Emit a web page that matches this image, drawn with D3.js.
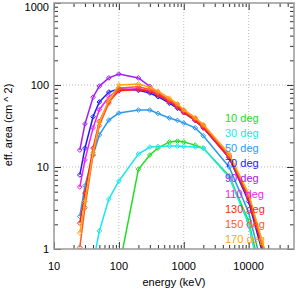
<!DOCTYPE html>
<html>
<head>
<meta charset="utf-8">
<script src="https://cdn.jsdelivr.net/npm/d3@7"></script>
<style>
  body { margin: 0; background: #fff; }
  text { font-family: "Liberation Sans", Arial, sans-serif; }
</style>
</head>
<body>
<div id="chart"></div>
<script>
// Energies (keV) of the simulated points
const ENERGIES = [25, 30, 40, 50, 70, 100, 200, 300, 400, 600, 800, 1000, 1500, 2000, 5000, 10000, 20000];

const ANGLES = ["10 deg", "30 deg", "50 deg", "70 deg", "90 deg", "110 deg", "130 deg", "150 deg", "170 deg"];
const COLORS = ["#22dd22", "#1ee6f0", "#2a9af0", "#1a1aff", "#a020f0", "#f01ef0", "#ff1e1e", "#ff5a28", "#ffa514"];

// effective area (cm^2), null where the curve has no point
const AREA_10 = [null, null, null, null, null, 0.57, 9.4, 14, 17, 20.2, 20.7, 20.2, 18.5, 17, 7.8, 2.2, 0.2];
const AREA_30 = [null, null, 0.66, 1.66, 4.07, 6.75, 14.4, 17.5, 17.8, 18, 18, 17.8, 17.5, 17, 7.5, 2.0, 0.15];
const AREA_50 = [2.5, 5.9, 14, 24.6, 37.4, 45.5, 49.5, 49.5, 45, 39.6, 37, 34.4, 30, 24, 10, 2.8, 0.3];
const AREA_70 = [8.0, 17, 41, 62, 82, 90, 86, 80, 72, 60, 52, 46, 37, 30, 13, 3.8, 0.5];
const AREA_90 = [16.1, 33.5, 71, 97, 122, 136, 122, 96, 80, 63, 54, 47, 38, 31, 13.5, 4.3, 0.6];
const AREA_110 = [5.7, 12.2, 30, 50, 72, 88, 90, 85, 78, 64, 55, 48, 38, 31, 13.5, 4.4, 0.62];
const AREA_130 = [2.07, 4.8, 17, 36, 62, 85, 88, 83, 76, 62, 54, 46, 37, 30, 13, 4.1, 0.57];
const AREA_150 = [1.05, 3.2, 14, 32, 60, 92, 95, 88, 80, 66, 57, 49, 39, 32, 14, 4.5, 0.65];
const AREA_170 = [1.57, 3.8, 15, 35, 66, 100, 103, 94, 84, 69, 59, 50, 40, 33, 14.5, 4.7, 0.7];

const SERIES = [AREA_10, AREA_30, AREA_50, AREA_70, AREA_90, AREA_110, AREA_130, AREA_150, AREA_170];

const X_MAJOR = [10, 100, 1000, 10000];
const X_MINOR = [20, 30, 40, 50, 60, 70, 80, 90, 200, 300, 400, 500, 600, 700, 800, 900,
    2000, 3000, 4000, 5000, 6000, 7000, 8000, 9000, 20000, 30000, 40000];
const Y_MAJOR = [1, 10, 100, 1000];
const Y_MINOR = [2, 3, 4, 5, 6, 7, 8, 9, 20, 30, 40, 50, 60, 70, 80, 90, 200, 300, 400, 500, 600, 700, 800, 900];

const WIDTH = 299;
const HEIGHT = 291;
const LEFT = 54, RIGHT = 294, TOP = 3, BOTTOM = 249;

const svg = d3.select("#chart").append("svg")
    .attr("width", WIDTH)
    .attr("height", HEIGHT);

const xScale = d3.scaleLog().domain([10, 50000]).range([LEFT, RIGHT]);
const yScale = d3.scaleLog().domain([1, 1000]).range([BOTTOM, TOP]);

// dotted grid at the decades
svg.append("g")
    .selectAll("line")
    .data(X_MAJOR.slice(1))
    .join("line")
    .attr("x1", d => xScale(d)).attr("x2", d => xScale(d))
    .attr("y1", TOP).attr("y2", BOTTOM)
    .attr("stroke", "#bbb").attr("stroke-dasharray", "1,2");
svg.append("g")
    .selectAll("line")
    .data([10, 100])
    .join("line")
    .attr("x1", LEFT).attr("x2", RIGHT)
    .attr("y1", d => yScale(d)).attr("y2", d => yScale(d))
    .attr("stroke", "#bbb").attr("stroke-dasharray", "1,2");

// curves
svg.append("defs").append("clipPath").attr("id", "plot-clip")
    .append("rect")
    .attr("x", LEFT).attr("y", TOP)
    .attr("width", RIGHT - LEFT).attr("height", BOTTOM - TOP);

const plot = svg.append("g").attr("clip-path", "url(#plot-clip)");

const line = d3.line()
    .defined(d => d[1] !== null)
    .x(d => xScale(d[0]))
    .y(d => yScale(d[1]));

const diamond = d3.symbol().type(d3.symbolDiamond2).size(14);

SERIES.forEach((values, idx) => {
    const points = ENERGIES.map((e, i) => [e, values[i]]);
    const g = plot.append("g");
    g.append("path")
        .attr("d", line(points))
        .attr("fill", "none")
        .attr("stroke", COLORS[idx])
        .attr("stroke-width", 1.5);
    g.selectAll("path.mark")
        .data(points.filter(d => d[1] !== null))
        .join("path")
        .attr("class", "mark")
        .attr("transform", d => `translate(${xScale(d[0])},${yScale(d[1])})`)
        .attr("d", diamond)
        .attr("fill", "none")
        .attr("stroke", COLORS[idx])
        .attr("stroke-width", 1);
});

// axes, ticks pointing inside on all four sides
function drawAxis(axis, translate, values, size) {
    const g = svg.append("g")
        .attr("transform", translate)
        .call(axis.tickValues(values).tickSize(size).tickFormat(""));
    g.select(".domain").remove();
    g.selectAll(".tick line").attr("stroke", "#333");
    return g;
}

drawAxis(d3.axisBottom(xScale), `translate(0,${BOTTOM})`, X_MAJOR, -7);
drawAxis(d3.axisBottom(xScale), `translate(0,${BOTTOM})`, X_MINOR, -4);
drawAxis(d3.axisTop(xScale), `translate(0,${TOP})`, X_MAJOR, -7);
drawAxis(d3.axisTop(xScale), `translate(0,${TOP})`, X_MINOR, -4);
drawAxis(d3.axisLeft(yScale), `translate(${LEFT},0)`, Y_MAJOR, -7);
drawAxis(d3.axisLeft(yScale), `translate(${LEFT},0)`, Y_MINOR, -4);
drawAxis(d3.axisRight(yScale), `translate(${RIGHT},0)`, Y_MAJOR, -7);
drawAxis(d3.axisRight(yScale), `translate(${RIGHT},0)`, Y_MINOR, -4);

// tick labels
svg.append("g").selectAll("text")
    .data(X_MAJOR)
    .join("text")
    .attr("x", d => xScale(d))
    .attr("y", 270)
    .attr("text-anchor", "middle")
    .attr("font-size", 11)
    .text(d => d);
svg.append("g").selectAll("text")
    .data(Y_MAJOR)
    .join("text")
    .attr("x", LEFT - 5)
    // keep the top label inside the page
    .attr("y", d => Math.max(yScale(d) + 4, 11))
    .attr("text-anchor", "end")
    .attr("font-size", 11)
    .text(d => d);

// frame
svg.append("rect")
    .attr("x", LEFT).attr("y", TOP)
    .attr("width", RIGHT - LEFT).attr("height", BOTTOM - TOP)
    .attr("fill", "none")
    .attr("stroke", "#999")
    .attr("stroke-width", 1.5);

// titles
svg.append("text")
    .attr("x", 174).attr("y", 286)
    .attr("text-anchor", "middle")
    .attr("font-size", 11)
    .text("energy (keV)");
svg.append("text")
    .attr("transform", "translate(12,125) rotate(-90)")
    .attr("text-anchor", "middle")
    .attr("font-size", 11)
    .text("eff. area (cm ^ 2)");

// legend
svg.append("g").selectAll("text")
    .data(ANGLES)
    .join("text")
    .attr("x", 225)
    .attr("y", (d, i) => 122 + i * 15.1)
    .attr("font-size", 11)
    .attr("fill", (d, i) => COLORS[i])
    .text(d => d);
</script>
</body>
</html>
